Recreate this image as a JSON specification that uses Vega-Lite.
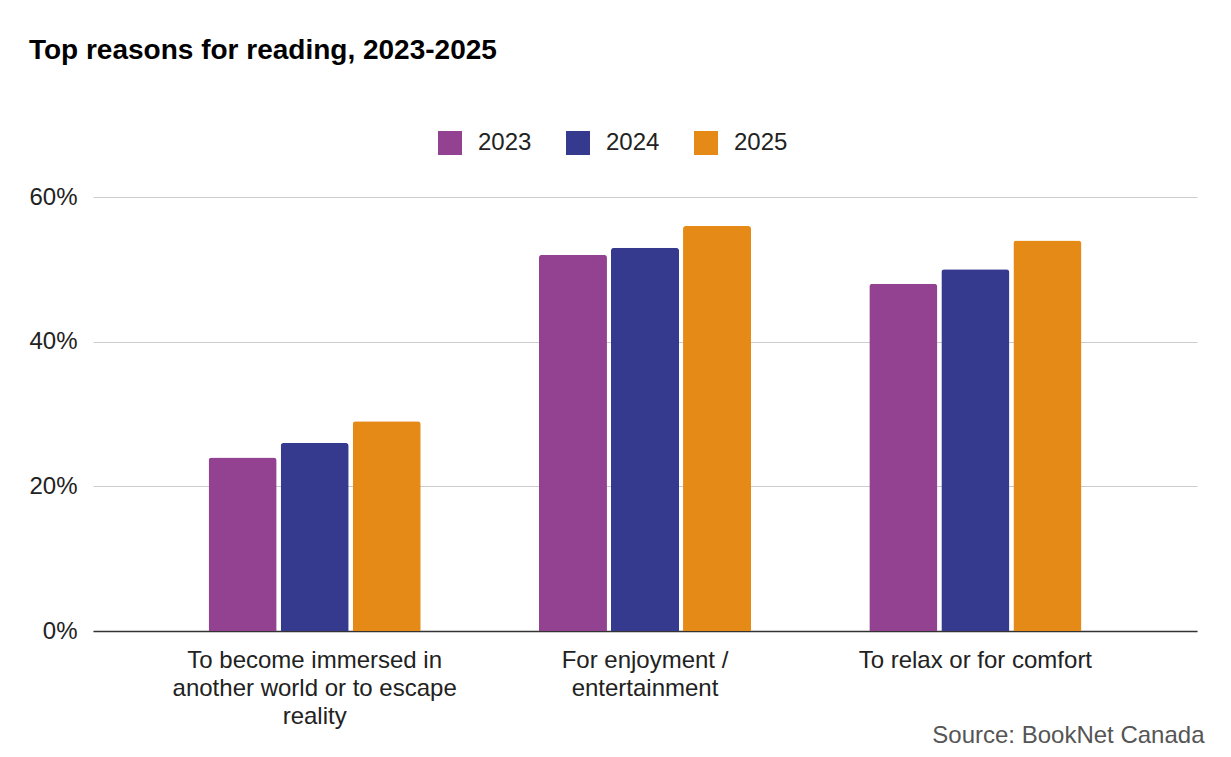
{
  "$schema": "https://vega.github.io/schema/vega-lite/v6.json",
  "width": 1104,
  "height": 434,
  "autosize": {"type": "none"},
  "padding": {"left": 93, "top": 197, "right": 34, "bottom": 126},
  "background": "white",
  "title": {
    "text": "Top reasons for reading, 2023-2025",
    "anchor": "start",
    "frame": "bounds",
    "font": "Liberation Sans",
    "fontSize": 28,
    "fontWeight": "bold",
    "color": "#000000",
    "offset": 66
  },
  "config": {
    "view": {"stroke": null},
    "font": "Liberation Sans"
  },
  "data": {
    "values": [
      {"reason": "To become immersed in another world or to escape reality", "year": "2023", "value": 0.24},
      {"reason": "To become immersed in another world or to escape reality", "year": "2024", "value": 0.26},
      {"reason": "To become immersed in another world or to escape reality", "year": "2025", "value": 0.29},
      {"reason": "For enjoyment / entertainment", "year": "2023", "value": 0.52},
      {"reason": "For enjoyment / entertainment", "year": "2024", "value": 0.53},
      {"reason": "For enjoyment / entertainment", "year": "2025", "value": 0.56},
      {"reason": "To relax or for comfort", "year": "2023", "value": 0.48},
      {"reason": "To relax or for comfort", "year": "2024", "value": 0.50},
      {"reason": "To relax or for comfort", "year": "2025", "value": 0.54}
    ]
  },
  "mark": {"type": "bar", "cornerRadiusTopLeft": 3, "cornerRadiusTopRight": 3},
  "encoding": {
    "x": {
      "field": "reason",
      "type": "nominal",
      "sort": ["To become immersed in another world or to escape reality", "For enjoyment / entertainment", "To relax or for comfort"],
      "scale": {"paddingInner": 0.358, "paddingOuter": 0.35},
      "axis": {
        "title": "Source: BookNet Canada",
        "titleAnchor": "end",
        "titleAlign": "right",
        "titleBaseline": "alphabetic",
        "titleX": 1111,
        "titleY": 111,
        "titleFont": "Liberation Sans",
        "titleFontSize": 24,
        "titleFontWeight": "normal",
        "titleColor": "#555555",
        "labelAngle": 0,
        "labelFont": "Liberation Sans",
        "labelFontSize": 24,
        "labelColor": "#222222",
        "labelPadding": 17,
        "labelLineHeight": 28,
        "labelLimit": 0,
        "labelBaseline": "top",
        "labelExpr": "datum.value == 'To become immersed in another world or to escape reality' ? ['To become immersed in', 'another world or to escape', 'reality'] : datum.value == 'For enjoyment / entertainment' ? ['For enjoyment /', 'entertainment'] : datum.value",
        "ticks": false,
        "domainColor": "#333333",
        "domainWidth": 1.5,
        "grid": false
      }
    },
    "xOffset": {
      "field": "year",
      "type": "nominal",
      "scale": {"paddingInner": 0.056, "paddingOuter": 0}
    },
    "y": {
      "field": "value",
      "type": "quantitative",
      "scale": {"domain": [0, 0.6]},
      "axis": {
        "title": null,
        "values": [0, 0.2, 0.4, 0.6],
        "format": ".0%",
        "domain": false,
        "ticks": false,
        "labelPadding": 16,
        "labelFont": "Liberation Sans",
        "labelFontSize": 24,
        "labelColor": "#222222",
        "gridColor": "#cccccc",
        "gridWidth": 1
      }
    },
    "color": {
      "field": "year",
      "type": "nominal",
      "scale": {"domain": ["2023", "2024", "2025"], "range": ["#934292", "#363a8e", "#e58a16"]},
      "legend": {
        "title": null,
        "orient": "none",
        "legendX": 345,
        "legendY": -66,
        "direction": "horizontal",
        "symbolType": "square",
        "symbolSize": 576,
        "symbolStrokeWidth": 0,
        "symbolOpacity": 1,
        "labelFont": "Liberation Sans",
        "labelFontSize": 24,
        "labelColor": "#222222",
        "labelOffset": 16,
        "columnPadding": 34
      }
    }
  }
}
